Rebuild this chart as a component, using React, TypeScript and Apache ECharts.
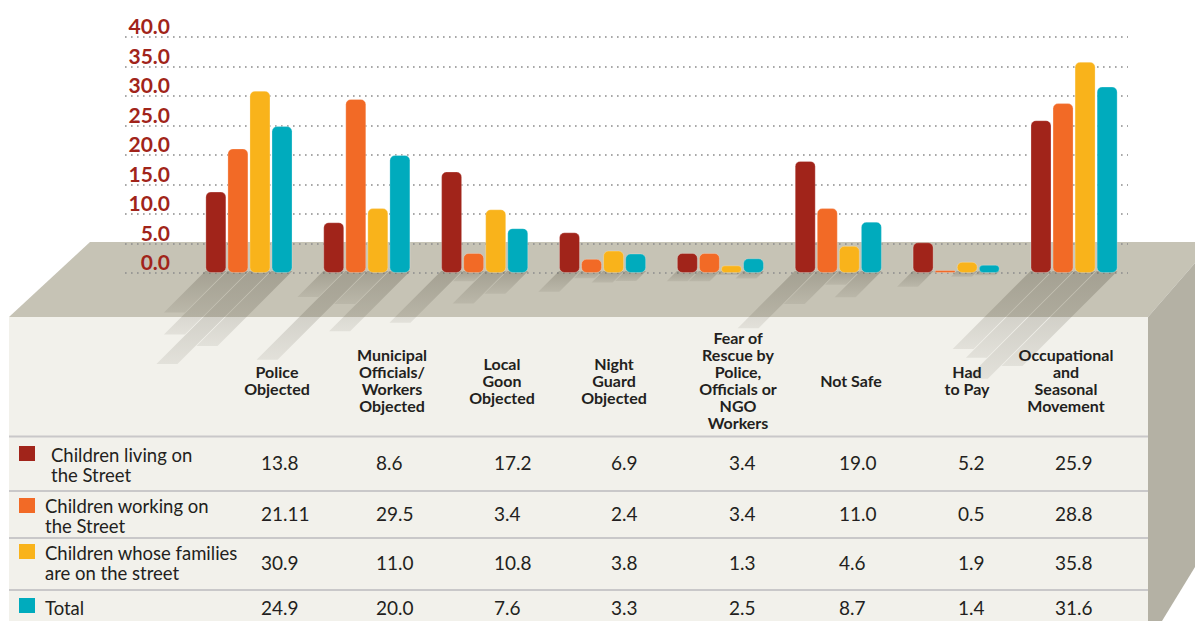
import React, { useEffect, useRef } from 'react';
import * as echarts from 'echarts';

// ---------- data ----------
const categories = [
  'Police\nObjected',
  'Municipal\nOfficials/\nWorkers\nObjected',
  'Local\nGoon\nObjected',
  'Night\nGuard\nObjected',
  'Fear of\nRescue by\nPolice,\nOfficials or\nNGO\nWorkers',
  'Not Safe',
  'Had\nto Pay',
  'Occupational\nand\nSeasonal\nMovement',
];
const seriesNames = [
  'Children living on\nthe Street',
  'Children working on\nthe Street',
  'Children whose families\nare on the street',
  'Total',
];
const livingOnStreet = [13.8, 8.6, 17.2, 6.9, 3.4, 19.0, 5.2, 25.9];
const workingOnStreet = [21.11, 29.5, 3.4, 2.4, 3.4, 11.0, 0.5, 28.8];
const familiesOnStreet = [30.9, 11.0, 10.8, 3.8, 1.3, 4.6, 1.9, 35.8];
const totalValues = [24.9, 20.0, 7.6, 3.3, 2.5, 8.7, 1.4, 31.6];
const yMin = 0;
const yMax = 40;
const yInterval = 5;

const allSeries = [livingOnStreet, workingOnStreet, familiesOnStreet, totalValues];

// ---------- styles / layout ----------
const colors = ['#a1241a', '#f26a26', '#f9b31b', '#00abbd'];
const W = 1195;
const H = 621;
const gridTop = 37;
const gridBottom = H - 273;
const barW = 21;
const barGapPx = 1;
const groupHalf = (4 * barW + 3 * barGapPx) / 2;

const headerX = [277, 392, 502, 614, 738, 851, 967, 1066];
const valueX = [261, 376, 494, 611, 729, 839, 958, 1055];
const rowY = [462, 513, 562, 607];
const rowLineY = [436.5, 491, 538, 590];
const labelX = [51, 45, 45, 45];
const labelY = [464.5, 515.5, 563, 608];
const squareY = [446, 498, 544, 598];

const FONT = 'Lato, "Noto Sans", sans-serif';

function fmt(v: number): string {
  const s = v.toFixed(1);
  return parseFloat(s) === v ? s : String(v);
}

export default function App() {
  const ref = useRef<HTMLDivElement>(null);

  useEffect(() => {
    if (!ref.current) return;
    const chart = echarts.init(ref.current, undefined, { renderer: 'svg' });

    const graphics: any[] = [];
    // top plane
    graphics.push({
      type: 'polygon',
      z: -5,
      silent: true,
      shape: { points: [[90, 242], [W, 242], [W, 263], [1148, 317], [9, 317]] },
      style: { fill: '#c6c3b5' },
    });
    // front face
    graphics.push({
      type: 'rect',
      z: -5,
      silent: true,
      shape: { x: 9, y: 317, width: 1139, height: H - 317 },
      style: { fill: '#f2f1eb' },
    });
    // side face
    graphics.push({
      type: 'polygon',
      z: -5,
      silent: true,
      shape: { points: [[1148, 317], [W, 263], [W, 567], [1162, H], [1148, H]] },
      style: { fill: '#b4b1a4' },
    });
    // row lines
    rowLineY.forEach((y) => {
      graphics.push({
        type: 'line',
        z: 10,
        silent: true,
        shape: { x1: 9, y1: y, x2: 1148, y2: y },
        style: { stroke: '#c9c8c9', lineWidth: 2 },
      });
    });
    // headers
    categories.forEach((c, i) => {
      graphics.push({
        type: 'text',
        z: 10,
        silent: true,
        style: {
          text: c,
          x: headerX[i],
          y: 380,
          align: 'center',
          verticalAlign: 'middle',
          lineHeight: 17,
          fontFamily: FONT,
          fontWeight: 'bold',
          fontSize: 16,
          fill: '#231f20',
        },
      });
    });
    // rows
    seriesNames.forEach((name, r) => {
      graphics.push({
        type: 'rect',
        z: 10,
        silent: true,
        shape: { x: 19, y: squareY[r], width: 16, height: 15 },
        style: { fill: colors[r] },
      });
      graphics.push({
        type: 'text',
        z: 10,
        silent: true,
        style: {
          text: name,
          x: labelX[r],
          y: labelY[r],
          align: 'left',
          verticalAlign: 'middle',
          lineHeight: 20,
          fontFamily: FONT,
          fontSize: 18.5,
          fill: '#231f20',
        },
      });
      allSeries[r].forEach((v, i) => {
        graphics.push({
          type: 'text',
          z: 10,
          silent: true,
          style: {
            text: fmt(v),
            x: valueX[i],
            y: rowY[r],
            align: 'left',
            verticalAlign: 'middle',
            fontFamily: FONT,
            fontSize: 19,
            fill: '#231f20',
          },
        });
      });
    });

    const barSeries = allSeries.map((vals, s) => ({
      type: 'bar',
      name: seriesNames[s],
      xAxisIndex: 1,
      yAxisIndex: 1,
      data: vals,
      barWidth: barW,
      barGap: '5%',
      z: 3,
      itemStyle: {
        color: colors[s],
        borderRadius: 5,
        borderColor: 'rgba(255,255,255,0.25)',
        borderWidth: 1,
      },
    }));

    const shadowSeries = allSeries.map((vals, s) => ({
      type: 'custom',
      xAxisIndex: 1,
      yAxisIndex: 1,
      z: 1,
      clip: false,
      silent: true,
      data: vals.map((v, i) => [i, v]),
      renderItem: (params: any, api: any) => {
        const i = api.value(0);
        const v = api.value(1);
        const base = api.coord([i, 0]);
        const top = api.coord([i, v]);
        const h = base[1] - top[1];
        const L = h * 0.51;
        const x0 = base[0] - groupHalf + s * (barW + barGapPx);
        const y0 = base[1] - 2;
        return {
          type: 'polygon',
          shape: {
            points: [
              [x0, y0],
              [x0 + barW, y0],
              [x0 + barW - L, y0 + L],
              [x0 - L, y0 + L],
            ],
          },
          style: {
            fill: {
              type: 'linear',
              x: 0,
              y: 0,
              x2: 0,
              y2: 1,
              colorStops: [
                { offset: 0, color: 'rgba(85,80,65,0.30)' },
                { offset: 1, color: 'rgba(85,80,65,0.10)' },
              ],
            },
          },
        };
      },
    }));

    chart.setOption({
      animation: false,
      graphic: graphics,
      grid: [
        { left: 125, right: W - 1128, top: gridTop, bottom: gridBottom },
        { left: 190, right: W - 1133, top: gridTop, bottom: gridBottom },
      ],
      xAxis: [
        { type: 'category', gridIndex: 0, data: categories, show: false },
        { type: 'category', gridIndex: 1, data: categories, show: false },
      ],
      yAxis: [
        {
          type: 'value',
          gridIndex: 0,
          min: yMin,
          max: yMax,
          interval: yInterval,
          axisLine: { show: false },
          axisTick: { show: false },
          splitLine: {
            show: true,
            lineStyle: { color: '#8c8c8c', width: 1.6, type: [1.6, 4.4] },
          },
          axisLabel: {
            inside: true,
            margin: 45,
            align: 'right',
            verticalAlign: 'bottom',
            padding: [0, 0, 1, 0],
            color: '#a1241a',
            fontFamily: FONT,
            fontWeight: 'bold',
            fontSize: 21,
            formatter: (v: number) => v.toFixed(1),
          },
        },
        {
          type: 'value',
          gridIndex: 1,
          min: yMin,
          max: yMax,
          interval: yInterval,
          show: false,
          splitLine: { show: false },
        },
      ],
      series: [...shadowSeries, ...barSeries],
    });

    return () => {
      chart.dispose();
    };
  }, []);

  return (
    <div
      ref={ref}
      style={{ position: 'fixed', left: 0, top: 0, width: W, height: H, background: '#ffffff' }}
    />
  );
}
